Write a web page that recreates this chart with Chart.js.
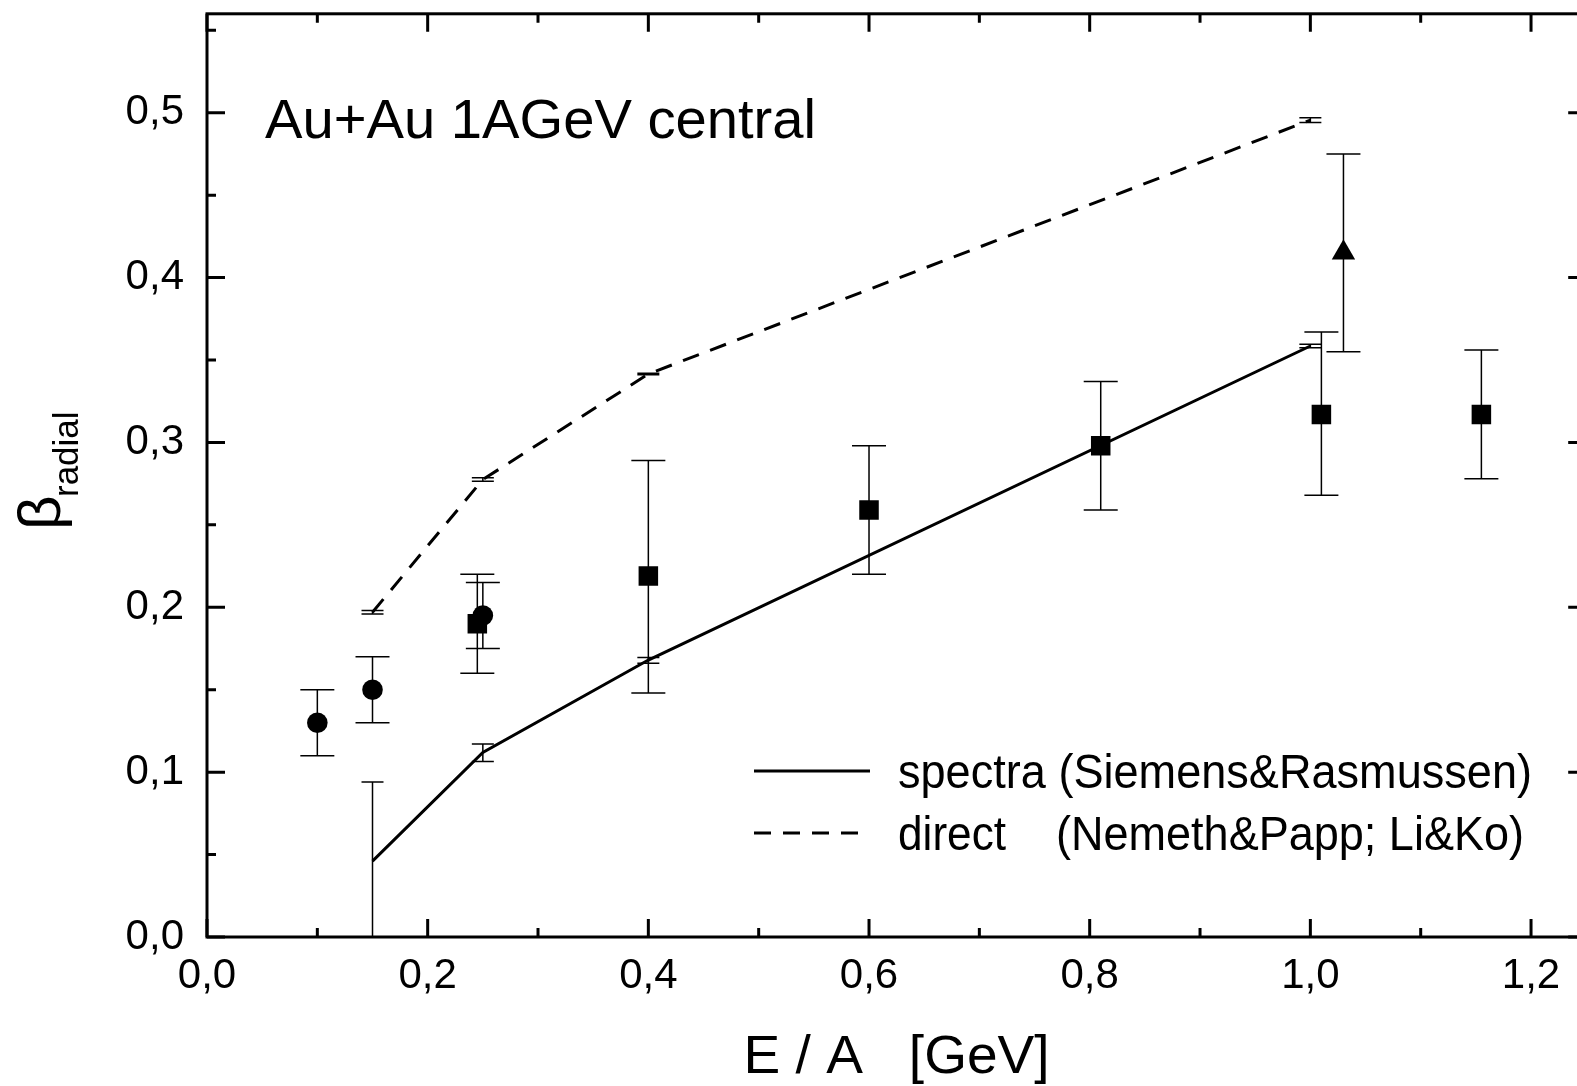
<!DOCTYPE html>
<html>
<head>
<meta charset="utf-8">
<script src="https://cdn.jsdelivr.net/npm/chart.js@4.4.1/dist/chart.umd.min.js"></script>
<style>
  html, body { margin: 0; padding: 0; background: #fff; overflow: hidden; }
  #wrap { position: relative; width: 1600px; height: 1086px; }
</style>
</head>
<body>
<div id="wrap"><canvas id="flowChart"></canvas></div>
<script>
// measured points (circles, squares, triangle) with error bar ends
const circleX = [0.10, 0.15, 0.25];
const circleY = [0.130, 0.150, 0.195];
const circleLow = [0.110, 0.130, 0.175];
const circleHigh = [0.150, 0.170, 0.215];

const squareX = [0.245, 0.40, 0.60, 0.81, 1.01, 1.155];
const squareY = [0.190, 0.219, 0.259, 0.298, 0.317, 0.317];
const squareLow = [0.160, 0.148, 0.220, 0.259, 0.268, 0.278];
const squareHigh = [0.220, 0.289, 0.298, 0.337, 0.367, 0.356];

const triangleX = [1.03];
const triangleY = [0.415];
const triangleLow = [0.355];
const triangleHigh = [0.475];

// model curves
const spectraX = [0.15, 0.25, 0.40, 1.00];
const spectraY = [0.046, 0.112, 0.168, 0.3585];
const spectraLow = [0.000, 0.1065, 0.166, 0.3575];
const spectraHigh = [0.094, 0.117, 0.1695, 0.3595];

const directX = [0.15, 0.25, 0.40, 1.00];
const directY = [0.197, 0.2775, 0.3415, 0.4955];
const directLow = [0.196, 0.2765, 0.341, 0.494];
const directHigh = [0.198, 0.2785, 0.342, 0.497];

const legendLabels = ["spectra (Siemens&Rasmussen)", "direct", "(Nemeth&Papp; Li&Ko)"];
const panelLabel = "Au+Au 1AGeV central";
const xTitle = "E / A   [GeV]";

const FONT = "'Liberation Sans', Arial, sans-serif";

function toPoints(xs, ys) {
  return xs.map((x, i) => ({ x: x, y: ys[i] }));
}

function fmt(v) {
  return (Math.round(v * 10) / 10).toFixed(1).replace(".", ",");
}

const errorBars = {
  id: "errorBars",
  beforeDatasetsDraw(chart) {
    const ctx = chart.ctx;
    const xs = chart.scales.x;
    const ys = chart.scales.y;
    ctx.save();
    ctx.strokeStyle = "#000";
    ctx.lineWidth = 1.5;
    chart.data.datasets.forEach(ds => {
      if (!ds.errLow) return;
      const half = ds.capWidth / 2;
      ds.data.forEach((p, i) => {
        const px = xs.getPixelForValue(p.x);
        const lo = ys.getPixelForValue(ds.errLow[i]);
        const hi = ys.getPixelForValue(ds.errHigh[i]);
        ctx.beginPath();
        ctx.moveTo(px, lo);
        ctx.lineTo(px, hi);
        ctx.moveTo(px - half, hi);
        ctx.lineTo(px + half, hi);
        if (ds.errLow[i] > 0) {
          ctx.moveTo(px - half, lo);
          ctx.lineTo(px + half, lo);
        }
        ctx.stroke();
      });
    });
    ctx.restore();
  }
};

// frame with inward ticks on all four sides
const frame = {
  id: "frame",
  afterDraw(chart) {
    const ctx = chart.ctx;
    const a = chart.chartArea;
    const xs = chart.scales.x;
    const ys = chart.scales.y;
    ctx.save();
    ctx.strokeStyle = "#000";
    ctx.lineWidth = 3;
    ctx.lineCap = "square";
    ctx.strokeRect(a.left, a.top, a.right - a.left, a.bottom - a.top);
    ctx.lineCap = "butt";
    ctx.beginPath();
    for (let k = 0; k <= 12; k++) {
      const px = xs.getPixelForValue(k / 10);
      const len = k % 2 === 0 ? 18 : 9;
      ctx.moveTo(px, a.bottom);
      ctx.lineTo(px, a.bottom - len);
      ctx.moveTo(px, a.top);
      ctx.lineTo(px, a.top + len);
    }
    for (let k = 0; k <= 11; k++) {
      const py = ys.getPixelForValue(k / 20);
      const len = k % 2 === 0 ? 18 : 9;
      ctx.moveTo(a.left, py);
      ctx.lineTo(a.left + len, py);
      ctx.moveTo(a.right, py);
      ctx.lineTo(a.right - len, py);
    }
    ctx.stroke();
    ctx.restore();
  }
};

function fitText(ctx, text, x, y, width) {
  const w = ctx.measureText(text).width;
  ctx.save();
  ctx.translate(x, y);
  ctx.scale(width / w, 1);
  ctx.fillText(text, 0, 0);
  ctx.restore();
}

const labels = {
  id: "labels",
  afterDraw(chart) {
    const ctx = chart.ctx;
    ctx.save();
    ctx.fillStyle = "#000";
    ctx.textBaseline = "alphabetic";
    ctx.textAlign = "left";

    ctx.font = "55px " + FONT;
    fitText(ctx, panelLabel, 265, 138, 551);

    ctx.font = "54px " + FONT;
    const mid = (chart.chartArea.left + chart.chartArea.right) / 2;
    fitText(ctx, xTitle, mid - 153, 1073, 306);

    // beta with subscript, rotated
    ctx.save();
    ctx.translate(60, 530);
    ctx.rotate(-Math.PI / 2);
    ctx.font = "60px " + FONT;
    ctx.fillText("\u03b2", 0, 0);
    ctx.font = "35px " + FONT;
    ctx.fillText("radial", 33, 18);
    ctx.restore();

    // legend
    ctx.strokeStyle = "#000";
    ctx.lineWidth = 3;
    ctx.beginPath();
    ctx.moveTo(754, 771);
    ctx.lineTo(870, 771);
    ctx.stroke();
    ctx.setLineDash([17, 12]);
    ctx.beginPath();
    ctx.moveTo(754, 833);
    ctx.lineTo(870, 833);
    ctx.stroke();
    ctx.setLineDash([]);

    ctx.font = "49px " + FONT;
    fitText(ctx, legendLabels[0], 898, 788, 634);
    fitText(ctx, legendLabels[1], 898, 850, 108);
    fitText(ctx, legendLabels[2], 1056, 850, 468);
    ctx.restore();
  }
};

function noPad(s) {
  s.paddingTop = 0;
  s.paddingBottom = 0;
  s.paddingLeft = 0;
  s.paddingRight = 0;
}

document.addEventListener("DOMContentLoaded", () => {
  const ctx = document.getElementById("flowChart").getContext("2d");
  new Chart(ctx, {
    type: "scatter",
    data: {
      datasets: [
        {
          label: "circles",
          data: toPoints(circleX, circleY),
          errLow: circleLow, errHigh: circleHigh, capWidth: 34,
          pointStyle: "circle", pointRadius: 10.3,
          backgroundColor: "#000", borderColor: "#000", borderWidth: 0
        },
        {
          label: "squares",
          data: toPoints(squareX, squareY),
          errLow: squareLow, errHigh: squareHigh, capWidth: 34,
          pointStyle: "rect", pointRadius: 13.8,
          backgroundColor: "#000", borderColor: "#000", borderWidth: 0
        },
        {
          label: "triangle",
          data: toPoints(triangleX, triangleY),
          errLow: triangleLow, errHigh: triangleHigh, capWidth: 34,
          pointStyle: "triangle", pointRadius: 13.5,
          backgroundColor: "#000", borderColor: "#000", borderWidth: 0
        },
        {
          label: "spectra (Siemens&Rasmussen)",
          type: "line",
          data: toPoints(spectraX, spectraY),
          errLow: spectraLow, errHigh: spectraHigh, capWidth: 22,
          borderColor: "#000", borderWidth: 3, pointRadius: 0,
          fill: false, tension: 0
        },
        {
          label: "direct (Nemeth&Papp; Li&Ko)",
          type: "line",
          data: toPoints(directX, directY),
          errLow: directLow, errHigh: directHigh, capWidth: 22,
          borderColor: "#000", borderWidth: 3, borderDash: [17, 12], pointRadius: 0,
          fill: false, tension: 0
        }
      ]
    },
    options: {
      responsive: true,
      maintainAspectRatio: false,
      animation: false,
      layout: { padding: { top: 11, right: 12, left: 0, bottom: 0 } },
      plugins: {
        legend: { display: false },
        tooltip: { enabled: false }
      },
      scales: {
        x: {
          type: "linear",
          min: 0,
          max: 1.25,
          grid: { display: false, drawTicks: false },
          border: { display: false },
          ticks: {
            stepSize: 0.2,
            includeBounds: false,
            padding: 14,
            color: "#000",
            maxRotation: 0,
            autoSkip: false,
            font: { family: FONT, size: 42 },
            callback: fmt
          },
          afterFit: s => { s.height = 149; noPad(s); }
        },
        y: {
          type: "linear",
          min: 0,
          max: 0.56,
          grid: { display: false, drawTicks: false },
          border: { display: false },
          ticks: {
            stepSize: 0.1,
            includeBounds: false,
            padding: 23,
            color: "#000",
            autoSkip: false,
            font: { family: FONT, size: 42 },
            callback: fmt
          },
          afterFit: s => { s.width = 207; noPad(s); }
        }
      }
    },
    plugins: [errorBars, frame, labels]
  });
});
</script>
</body>
</html>
